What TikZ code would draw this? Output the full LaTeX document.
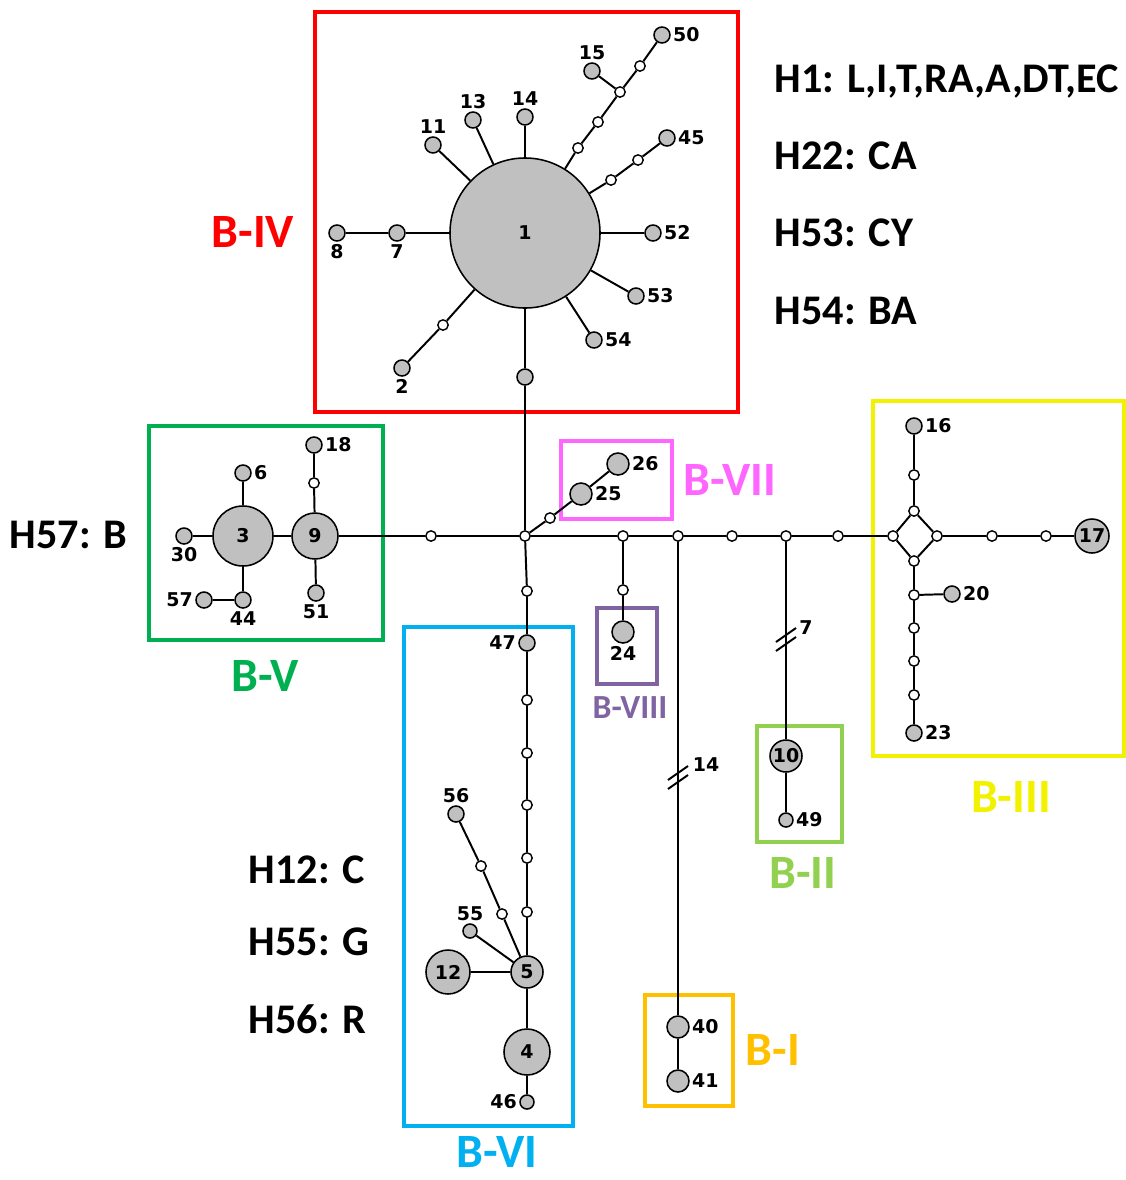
\documentclass[tikz,border=0pt]{standalone}
\usepackage{fontspec}
\setmainfont{Carlito}
\newfontfamily\numfont{DejaVu Sans}
\definecolor{hapgray}{HTML}{C0C0C0}
\definecolor{cI}{HTML}{FFC000}
\definecolor{cII}{HTML}{92D050}
\definecolor{cIII}{HTML}{F2F200}
\definecolor{cIV}{HTML}{FF0000}
\definecolor{cV}{HTML}{00B050}
\definecolor{cVI}{HTML}{00B0F0}
\definecolor{cVII}{HTML}{FF66FF}
\definecolor{cVIII}{HTML}{8064A2}

\begin{document}
\begin{tikzpicture}[x=0.025cm,y=-0.025cm,
  hap/.style={circle,draw,fill=hapgray,line width=1.1pt,inner sep=0pt,minimum size=#1,
    font=\numfont\bfseries\fontsize{13.5}{13.5}\selectfont},
  hap/.default=0.4cm,
  mv/.style={circle,draw,fill=white,line width=1pt,inner sep=0pt,minimum size=0.26cm},
  lnk/.style={line width=1.4pt},
  grp/.style={line width=2.6pt},
  every label/.style={font=\numfont\bfseries\fontsize{13.5}{13.5}\selectfont,inner sep=1.5pt},
  ttl/.style={font=\bfseries\fontsize{34}{34}\selectfont,inner sep=1pt},
  hlab/.style={font=\bfseries\fontsize{30}{30}\selectfont,anchor=west}]
  \useasboundingbox (0,0) rectangle (1126,1180);
  % group boxes
  \draw[grp,cIV] (315,12) rectangle (738,412);
  \draw[grp,cV] (149,426) rectangle (383,640);
  \draw[grp,cVI] (404,627) rectangle (573,1126);
  \draw[grp,cVII] (561,441) rectangle (672,519);
  \draw[grp,cVIII] (597,608) rectangle (657,684);
  \draw[grp,cII] (757,726) rectangle (842,842);
  \draw[grp,cI] (645,995) rectangle (733,1106);
  \draw[grp,cIII] (873,401) rectangle (1124,756);
  % B-IV
  \node[hap=3.75cm] (h1) at (525,233) {1};
  \node[hap,label=below:7] (h7) at (397,233) {};
  \node[hap,label=below:8] (h8) at (337,233) {};
  \node[hap,label=above:11] (h11) at (433,145) {};
  \node[hap,label=above:13] (h13) at (473,120) {};
  \node[hap,label=above:14] (h14) at (525,117) {};
  \node[mv] (m1) at (578,148) {};
  \node[mv] (m2) at (598,122) {};
  \node[mv] (m3) at (620,92) {};
  \node[hap,label=above:15] (h15) at (592,71) {};
  \node[mv] (m4) at (640,66) {};
  \node[hap,label=right:50] (h50) at (662,35) {};
  \node[mv] (m5) at (611,180) {};
  \node[mv] (m6) at (638,160) {};
  \node[hap,label=right:45] (h45) at (667,138) {};
  \node[hap,label=right:52] (h52) at (653,233) {};
  \node[hap,label=right:53] (h53) at (636,296) {};
  \node[hap,label=right:54] (h54) at (594,340) {};
  \node[mv] (m7) at (443,325) {};
  \node[hap,label=below:2] (h2) at (402,368) {};
  \node[hap] (hx) at (525,377) {};
  \node[mv] (c0) at (525,536) {};
  % B-V
  \node[hap=1.5cm] (h3) at (243,536) {3};
  \node[hap=1.15cm] (h9) at (315,536) {9};
  \node[hap,label=right:6] (h6) at (243,473) {};
  \node[hap,label=below:30] (h30) at (184,536) {};
  \node[hap,label=below:44] (h44) at (243,600) {};
  \node[hap,label=left:57] (h57) at (204,600) {};
  \node[mv] (m8) at (314,483) {};
  \node[hap,label=right:18] (h18) at (314,445) {};
  \node[hap,label=below:51] (h51) at (316,593) {};
  \node[mv] (m9) at (431,536) {};
  % B-VII, B-VIII
  \node[mv] (m10) at (550,518) {};
  \node[hap=0.55cm,label=right:25] (h25) at (581,494) {};
  \node[hap=0.55cm,label=right:26] (h26) at (618,464) {};
  \node[mv] (m11) at (623,536) {};
  \node[mv] (m12) at (678,536) {};
  \node[mv] (m13) at (732,536) {};
  \node[mv] (m14) at (786,536) {};
  \node[mv] (m15) at (838,536) {};
  \node[mv] (m16) at (623,590) {};
  \node[hap=0.55cm,label=below:24] (h24) at (623,632) {};
  % B-II, B-I
  \node[hap=0.8cm] (h10) at (786,756) {10};
  \node[hap=0.35cm,label=right:49] (h49) at (786,820) {};
  \node[hap=0.55cm,label=right:40] (h40) at (678,1027) {};
  \node[hap=0.55cm,label=right:41] (h41) at (678,1081) {};
  \coordinate (k7) at (786,640);
  \coordinate (k14) at (678,778);
  % B-III
  \node[mv] (d1) at (893,536) {};
  \node[mv] (d2) at (914,511) {};
  \node[mv] (d3) at (937,536) {};
  \node[mv] (d4) at (914,561) {};
  \node[mv] (m17) at (914,475) {};
  \node[hap,label=right:16] (h16) at (914,426) {};
  \node[mv] (m18) at (992,536) {};
  \node[mv] (m19) at (1046,536) {};
  \node[hap=0.85cm] (h17) at (1092,536) {17};
  \node[mv] (m20) at (914,595) {};
  \node[hap,label=right:20] (h20) at (952,594) {};
  \node[mv] (m21) at (914,628) {};
  \node[mv] (m22) at (914,661) {};
  \node[mv] (m23) at (914,695) {};
  \node[hap,label=right:23] (h23) at (914,733) {};
  % B-VI
  \node[mv] (m24) at (527,591) {};
  \node[hap,label=left:47] (h47) at (527,643) {};
  \node[mv] (m25) at (527,700) {};
  \node[mv] (m26) at (527,753) {};
  \node[mv] (m27) at (527,805) {};
  \node[mv] (m28) at (527,858) {};
  \node[mv] (m29) at (527,912) {};
  \node[hap=0.8cm] (h5) at (527,972) {5};
  \node[hap=1.1cm] (h12) at (448,972) {12};
  \node[hap=0.35cm,label=above:55] (h55) at (470,931) {};
  \node[mv] (m30) at (502,914) {};
  \node[mv] (m31) at (481,866) {};
  \node[hap,label=above:56] (h56) at (456,814) {};
  \node[hap=1.15cm] (h4) at (527,1052) {4};
  \node[hap=0.35cm,label=left:46] (h46) at (527,1102) {};
  % links
  \draw[lnk] (h1)--(h7) (h7)--(h8) (h1)--(h11) (h1)--(h13) (h1)--(h14);
  \draw[lnk] (h1)--(m1) (m1)--(m2) (m2)--(m3) (m3)--(h15) (m3)--(m4) (m4)--(h50);
  \draw[lnk] (h1)--(m5) (m5)--(m6) (m6)--(h45) (h1)--(h52) (h1)--(h53) (h1)--(h54);
  \draw[lnk] (h1)--(m7) (m7)--(h2) (h1)--(hx) (hx)--(c0);
  \draw[lnk] (h3)--(h9) (h3)--(h6) (h3)--(h30) (h3)--(h44) (h44)--(h57);
  \draw[lnk] (h9)--(m8) (m8)--(h18) (h9)--(h51) (h9)--(m9) (m9)--(c0);
  \draw[lnk] (c0)--(m10) (m10)--(h25) (h25)--(h26);
  \draw[lnk] (c0)--(m11) (m11)--(m12) (m12)--(m13) (m13)--(m14) (m14)--(m15) (m15)--(d1);
  \draw[lnk] (m11)--(m16) (m16)--(h24);
  \draw[lnk] (m14)--(h10) (h10)--(h49);
  \draw[lnk] (m12)--(h40) (h40)--(h41);
  \draw[lnk] (d1)--(d2) (d2)--(d3) (d3)--(d4) (d4)--(d1) (d2)--(m17) (m17)--(h16);
  \draw[lnk] (d3)--(m18) (m18)--(m19) (m19)--(h17);
  \draw[lnk] (d4)--(m20) (m20)--(h20) (m20)--(m21) (m21)--(m22) (m22)--(m23) (m23)--(h23);
  \draw[lnk] (c0)--(m24) (m24)--(h47) (h47)--(m25) (m25)--(m26) (m26)--(m27) (m27)--(m28) (m28)--(m29) (m29)--(h5);
  \draw[lnk] (h5)--(h12) (h5)--(h55) (h5)--(m30) (m30)--(m31) (m31)--(h56) (h5)--(h4) (h4)--(h46);
  % break marks
  \draw[lnk] (k7) ++(-10,2) -- ++(20,-14) (k7) ++(-10,11) -- ++(20,-14);
  \node[font=\numfont\bfseries\fontsize{13.5}{13.5}\selectfont] (n7) at (806,628) {7};
  \draw[lnk] (k14) ++(-10,2) -- ++(20,-14) (k14) ++(-10,11) -- ++(20,-14);
  \node[font=\numfont\bfseries\fontsize{13.5}{13.5}\selectfont] (n14) at (706,765) {14};
  % group names
  \node[ttl,text=cIV] (tIV) at (253,232) {B-IV};
  \node[ttl,text=cV] (tV) at (265,676) {B-V};
  \node[ttl,text=cVI] (tVI) at (497,1152) {B-VI};
  \node[ttl,text=cVII] (tVII) at (730,480) {B-VII};
  \node[font=\bfseries\fontsize{24}{24}\selectfont,text=cVIII] (tVIII) at (630,708) {B-VIII};
  \node[ttl,text=cII] (tII) at (803,873) {B-II};
  \node[ttl,text=cI] (tI) at (773,1050) {B-I};
  \node[ttl,text=cIII] (tIII) at (1011,797) {B-III};
  % haplotype notes
  \node[hlab] (n1) at (770,82) {H1: L,I,T,RA,A,DT,EC};
  \node[hlab] (n22) at (770,156) {H22: CA};
  \node[hlab] (n53) at (770,233) {H53: CY};
  \node[hlab] (n54) at (770,311) {H54: BA};
  \node[hlab] (n57) at (5,535) {H57: B};
  \node[hlab] (n12) at (244,870) {H12: C};
  \node[hlab] (n55) at (244,942) {H55: G};
  \node[hlab] (n56) at (244,1019) {H56: R};
\end{tikzpicture}
\end{document}
